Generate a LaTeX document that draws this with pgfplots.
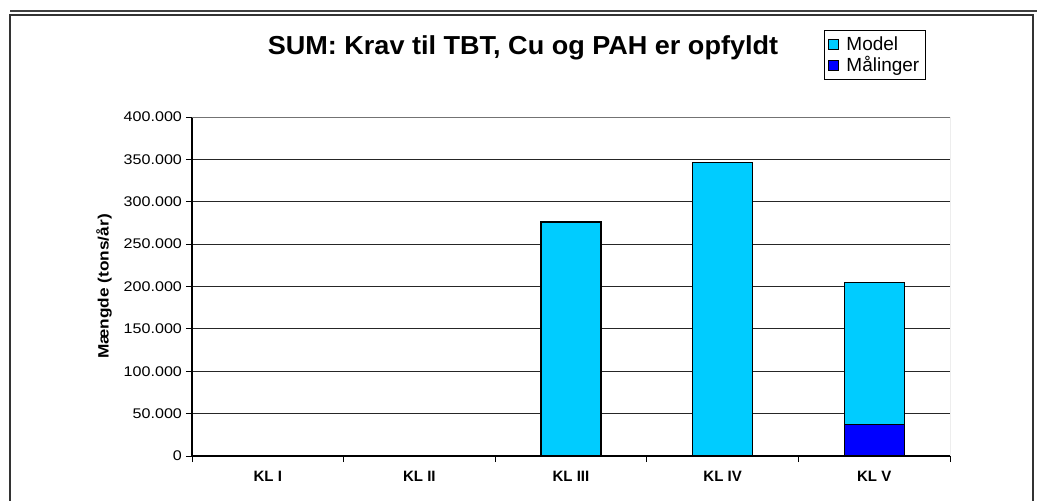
\documentclass[border=0pt]{standalone}
\usepackage{fontspec}
\setmainfont{Liberation Sans}
\usepackage{pgfplots}
\pgfplotsset{compat=1.18}

\definecolor{modelcyan}{RGB}{0,204,255}
\definecolor{maalblue}{RGB}{0,0,255}

% data, values in tons/year
\pgfplotstableread{
x maal model
0 0 0
1 0 0
2 0 276000
3 0 346000
4 37500 167500
}\sumdata

\begin{document}
\begin{tikzpicture}[x=1pt,y=1pt]
\useasboundingbox (0,0) rectangle (1037,501);

% outer chart frame
\draw[line width=1.2pt, black!75] (10,490) -- (1037,490);
\draw[line width=2pt, black!80] (10,0) -- (10,486) -- (1033,486) -- (1033,0);

\node[font=\bfseries\fontsize{26}{30}\selectfont, xscale=1.04] at (523,453.5)
  {SUM: Krav til TBT, Cu og PAH er opfyldt};

\begin{axis}[
    at={(192pt,45pt)}, anchor=south west,
    scale only axis,
    width=758pt, height=339pt,
    xmin=-0.5, xmax=4.5,
    ymin=0, ymax=400000,
    scaled y ticks=false,
    ybar stacked,
    bar width=60pt,
    axis x line*=bottom,
    axis y line*=left,
    axis line style={-, black, line width=1.2pt},
    tick align=outside,
    major tick length=6pt,
    minor tick length=6pt,
    xtick={0,1,2,3,4},
    xticklabels={KL I,KL II,KL III,KL IV,KL V},
    minor xtick={-0.5,0.5,1.5,2.5,3.5,4.5},
    major x tick style={draw=none},
    minor x tick style={black, line width=1pt},
    ytick={0,50000,100000,150000,200000,250000,300000,350000,400000},
    yticklabels={0,50.000,100.000,150.000,200.000,250.000,300.000,350.000,400.000},
    y tick style={black, line width=1pt},
    xticklabel style={font=\bfseries\fontsize{15}{17}\selectfont, yshift=-6pt},
    yticklabel style={font=\fontsize{14}{16}\selectfont, xscale=1.15},
    ymajorgrids=true,
    grid style={black!85, line width=1pt},
    ylabel={Mængde (tons/år)},
    ylabel style={font=\bfseries\fontsize{15}{17}\selectfont,
        at={(axis description cs:-0.1161,0.5)}, anchor=center, xscale=1.15},
    reverse legend,
    legend cell align=left,
    legend image code/.code={
        \draw[#1, draw=black, line width=0.8pt] (0pt,-5pt) rectangle (10pt,5pt);
        \path (15pt,0pt);},
    legend style={at={(axis description cs:0.8338,1.2566)}, anchor=north west,
        draw=black, line width=0.8pt,
        font=\fontsize{19}{21}\selectfont,
        inner xsep=4pt, inner ysep=4pt, row sep=1pt},
]
\addplot[fill=maalblue, draw=black, line width=1.2pt] table[x=x, y=maal] {\sumdata};
\addplot[fill=modelcyan, draw=black, line width=1.2pt] table[x=x, y=model] {\sumdata};
\legend{Målinger, Model}
\draw[black!55, line width=1pt] (rel axis cs:0,1) -- (rel axis cs:1,1) -- (rel axis cs:1,0);
\end{axis}
\end{tikzpicture}
\end{document}
